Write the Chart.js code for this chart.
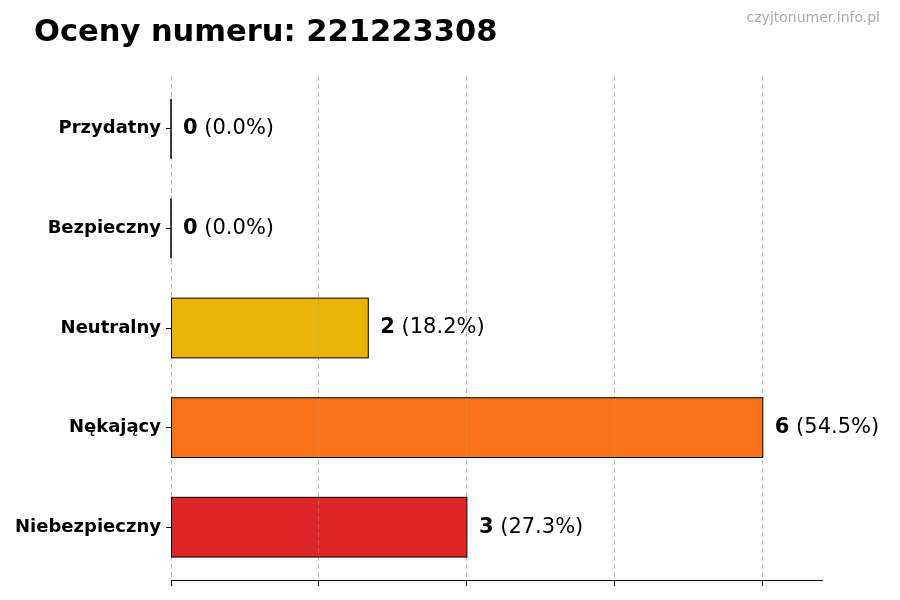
<!DOCTYPE html>
<html>
<head>
<meta charset="utf-8">
<script src="https://cdn.jsdelivr.net/npm/chart.js@4"></script>
<style>
  body { margin: 0; background: #fff; }
  #wrap { width: 900px; height: 600px; }
</style>
</head>
<body>
<div id="wrap"><canvas id="ratingsChart" width="900" height="600"></canvas></div>
<script>
const categories = ['Przydatny', 'Bezpieczny', 'Neutralny', 'Nękający', 'Niebezpieczny'];
const counts = [0, 0, 2, 6, 3];
const barColors = ['#22c55e', '#3b82f6', '#eab308', '#f97316', '#dc2626'];
const xTicks = [0, 1.5, 3, 4.5, 6];
const xMax = 6.6;
const titleText = 'Oceny numeru: 221223308';
const watermark = 'czyjtonumer.info.pl';

document.addEventListener('DOMContentLoaded', function() {
    const total = counts.reduce((a, b) => a + b, 0);
    const FONT = '"DejaVu Sans", sans-serif';

    const overlay = {
        id: 'overlay',
        afterDatasetsDraw(chart) {
            const ctx = chart.ctx;
            // grid sits on top of the bars in the original
            chart.scales.x.drawGrid(chart.chartArea);

            const meta = chart.getDatasetMeta(0);
            ctx.save();
            meta.data.forEach((bar, i) => {
                const p = bar.getProps(['x', 'y', 'base', 'height'], true);
                ctx.strokeStyle = '#000';
                ctx.lineWidth = 1;
                ctx.strokeRect(p.base, p.y - p.height / 2, p.x - p.base, p.height);

                const v = counts[i];
                const pct = ' (' + (total ? v / total * 100 : 0).toFixed(1) + '%)';
                let tx = p.x + 12;
                ctx.fillStyle = '#000';
                ctx.textBaseline = 'middle';
                ctx.textAlign = 'left';
                ctx.font = 'bold 21px ' + FONT;
                ctx.fillText(String(v), tx, p.y);
                tx += ctx.measureText(String(v)).width;
                ctx.font = '21px ' + FONT;
                ctx.fillText(pct, tx, p.y);
            });
            ctx.restore();
        },
        afterDraw(chart) {
            const ctx = chart.ctx;
            ctx.save();
            ctx.fillStyle = '#000';
            ctx.font = 'bold 30.5px ' + FONT;
            ctx.textAlign = 'left';
            ctx.textBaseline = 'alphabetic';
            ctx.fillText(titleText, 34, 41);
            ctx.fillStyle = '#aaaaaa';
            ctx.font = '14px ' + FONT;
            ctx.textAlign = 'right';
            ctx.fillText(watermark, 880, 22);
            ctx.restore();
        }
    };

    const ctx = document.getElementById('ratingsChart').getContext('2d');
    new Chart(ctx, {
        type: 'bar',
        data: {
            datasets: [{
                data: counts.map((c, i) => ({ x: c, y: i })),
                backgroundColor: barColors,
                borderWidth: 0,
                barPercentage: 0.6,
                categoryPercentage: 1.0
            }]
        },
        options: {
            indexAxis: 'y',
            responsive: false,
            animation: false,
            devicePixelRatio: 1,
            layout: { padding: { left: 0, top: 76, right: 78, bottom: 14 } },
            plugins: {
                legend: { display: false },
                tooltip: { enabled: false },
                title: { display: false }
            },
            scales: {
                x: {
                    type: 'linear',
                    min: 0,
                    max: xMax,
                    afterBuildTicks: axis => { axis.ticks = xTicks.map(v => ({ value: v })); },
                    ticks: { display: false },
                    grid: {
                        color: 'rgba(160,160,160,0.45)',
                        lineWidth: 1,
                        drawTicks: true,
                        tickLength: 6,
                        tickColor: '#000',
                        tickBorderDash: []
                    },
                    border: { display: true, color: '#000', width: 1, dash: [5, 3] }
                },
                y: {
                    type: 'linear',
                    reverse: true,
                    offset: false,
                    min: -0.53,
                    max: categories.length - 1 + 0.53,
                    afterBuildTicks: axis => { axis.ticks = categories.map((c, i) => ({ value: i })); },
                    afterFit: scale => { scale.width = 171; },
                    ticks: {
                        color: '#000',
                        padding: 5,
                        callback: v => categories[v],
                        font: { family: FONT, size: 18, weight: 'bold' }
                    },
                    grid: {
                        offset: false,
                        drawOnChartArea: false,
                        drawTicks: true,
                        tickLength: 5,
                        tickWidth: 1,
                        tickColor: '#000'
                    },
                    border: { display: false }
                }
            }
        },
        plugins: [overlay]
    });
});
</script>
</body>
</html>
